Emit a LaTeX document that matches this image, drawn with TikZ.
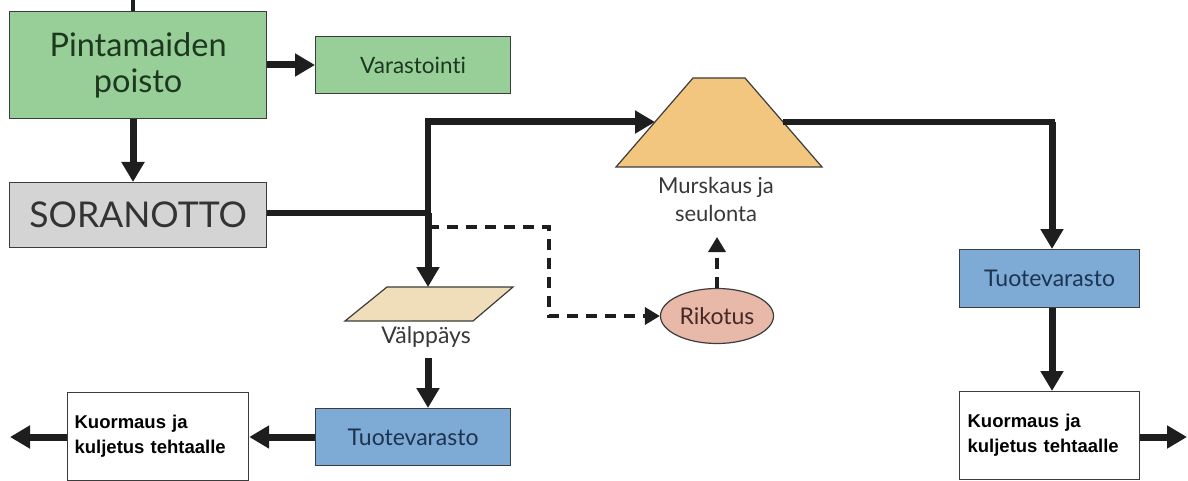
\documentclass[tikz,border=0pt]{standalone}
\usepackage{fontspec}
\setmainfont{Lato}[Ligatures={NoCommon,NoRare}]
\newfontfamily\arialfont{Liberation Sans}
\usetikzlibrary{arrows.meta,shapes.geometric,positioning}
\definecolor{grfill}{RGB}{152,206,152}
\definecolor{grtext}{RGB}{28,56,30}
\definecolor{gyfill}{RGB}{212,212,212}
\definecolor{blfill}{RGB}{126,170,214}
\definecolor{bltext}{RGB}{28,52,80}
\definecolor{orfill}{RGB}{242,198,126}
\definecolor{befill}{RGB}{240,221,186}
\definecolor{pkfill}{RGB}{232,184,168}
\definecolor{rktext}{RGB}{70,40,38}
\definecolor{lnc}{RGB}{30,30,30}
\definecolor{bord}{RGB}{60,60,60}
\tikzset{
  boxbase/.style={draw=bord,line width=1.2pt,inner sep=0pt,anchor=north west},
  flow/.style={draw=lnc,line width=7pt,-{Triangle[length=20pt,width=22pt]}},
  flowline/.style={draw=lnc,line width=6pt},
  dflow/.style={draw=lnc,line width=3.5pt,dash pattern=on 11pt off 8pt,-{Triangle[length=15pt,width=17pt]}},
  lbl/.style={align=center,text=black!78},
  whitebox/.style={boxbase,fill=white,align=left,font=\arialfont\bfseries\fontsize{18.5}{25}\selectfont,text=black}
}
\begin{document}
\begin{tikzpicture}[x=1pt,y=-1pt]
\useasboundingbox (0,0) rectangle (1188,481);
% boxes
\node[boxbase,fill=grfill,minimum width=257pt,minimum height=107pt,text=grtext,align=center,font=\fontsize{32.5}{36}\selectfont] (pint) at (9,11) {Pintamaiden\\poisto};
\node[boxbase,fill=grfill,minimum width=195pt,minimum height=57pt,text=grtext,font=\fontsize{22.5}{26}\selectfont] (varast) at (315,36) {Varastointi};
\node[boxbase,fill=gyfill,minimum width=257pt,minimum height=65pt,text=black!80,font=\fontsize{35.5}{40}\selectfont] (sora) at (9,182) {SORANOTTO};
\node[boxbase,fill=blfill,minimum width=180pt,minimum height=58pt,text=bltext,font=\fontsize{23}{26}\selectfont] (tuoteR) at (959,249) {Tuotevarasto};
\node[boxbase,fill=blfill,minimum width=195pt,minimum height=57pt,text=bltext,font=\fontsize{23}{26}\selectfont] (tuoteL) at (315,408) {Tuotevarasto};
\node[whitebox,minimum width=180pt,minimum height=88pt,text width=164pt] (kuorR) at (959,391) {Kuormaus ja\\kuljetus tehtaalle};
\node[whitebox,minimum width=181pt,minimum height=88pt,text width=167pt] (kuorL) at (67,392) {Kuormaus ja\\kuljetus tehtaalle};
% trapezium (crushing & screening)
\draw[draw=bord,line width=1.2pt,fill=orfill] (616,167) -- (693,78) -- (745,78) -- (822,167) -- cycle;
\coordinate (trapIn) at (655,122);
\coordinate (trapOut) at (783,122);
\node[lbl,font=\fontsize{22}{28}\selectfont] (murs) at (716,199) {Murskaus ja\\seulonta};
% parallelogram (screening grate)
\draw[draw=bord,line width=1.2pt,fill=befill] (387,287) -- (513,287) -- (473,321) -- (345,321) -- cycle;
\coordinate (valpTop) at (428,287);
\coordinate (valpBot) at (428,358);
\node[lbl,font=\fontsize{23}{26}\selectfont] (valp) at (426,337) {Välppäys};
% ellipse
\node[ellipse,draw=bord,line width=1.2pt,fill=pkfill,minimum width=113pt,minimum height=55pt,inner sep=0pt,text=rktext,font=\fontsize{23}{26}\selectfont] (rik) at (717,316) {Rikotus};
% coordinates
\coordinate (j) at (428,213);
\coordinate (jtop) at (428,122);
\coordinate (rcorner) at (1052,122);
\coordinate (dj) at (428,227);
\coordinate (dcorner) at (549,227);
\coordinate (leftEnd) at (10,437);
\coordinate (rightEnd) at (1187,437);
\coordinate (stub) at (133,0);
\coordinate (murIn) at (717,237);
% connectors
\draw[line width=4pt,draw=lnc] (pint.north -| stub) -- (stub);
\draw[flow] (pint.east |- 0,65) -- (varast.west |- 0,65);
\draw[flow] (pint.south -| 133,0) -- (sora.north -| 133,0);
\draw[flowline] (sora.east |- j) -- (j);
\draw[flowline] (jtop) -- (j);
\draw[flow] (j) -- (valpTop);
\draw[flow] ([yshift=-3pt]jtop) |- (trapIn);
\draw[flowline] (trapOut) -- ([xshift=3pt]rcorner);
\draw[flow] (rcorner) -- (rcorner |- tuoteR.north);
\draw[flow] (tuoteR.south -| rcorner) -- (kuorR.north -| rcorner);
\draw[flow] (kuorR.east |- rightEnd) -- (rightEnd);
\draw[flow] (valpBot) -- (tuoteL.north -| valpBot);
\draw[flow] (tuoteL.west |- leftEnd) -- (kuorL.east |- leftEnd);
\draw[flow] (kuorL.west |- leftEnd) -- (leftEnd);
\draw[dflow] (dj) -- (dcorner) |- (rik.west);
\draw[dflow] (rik.north) -- (murIn);
\end{tikzpicture}
\end{document}
